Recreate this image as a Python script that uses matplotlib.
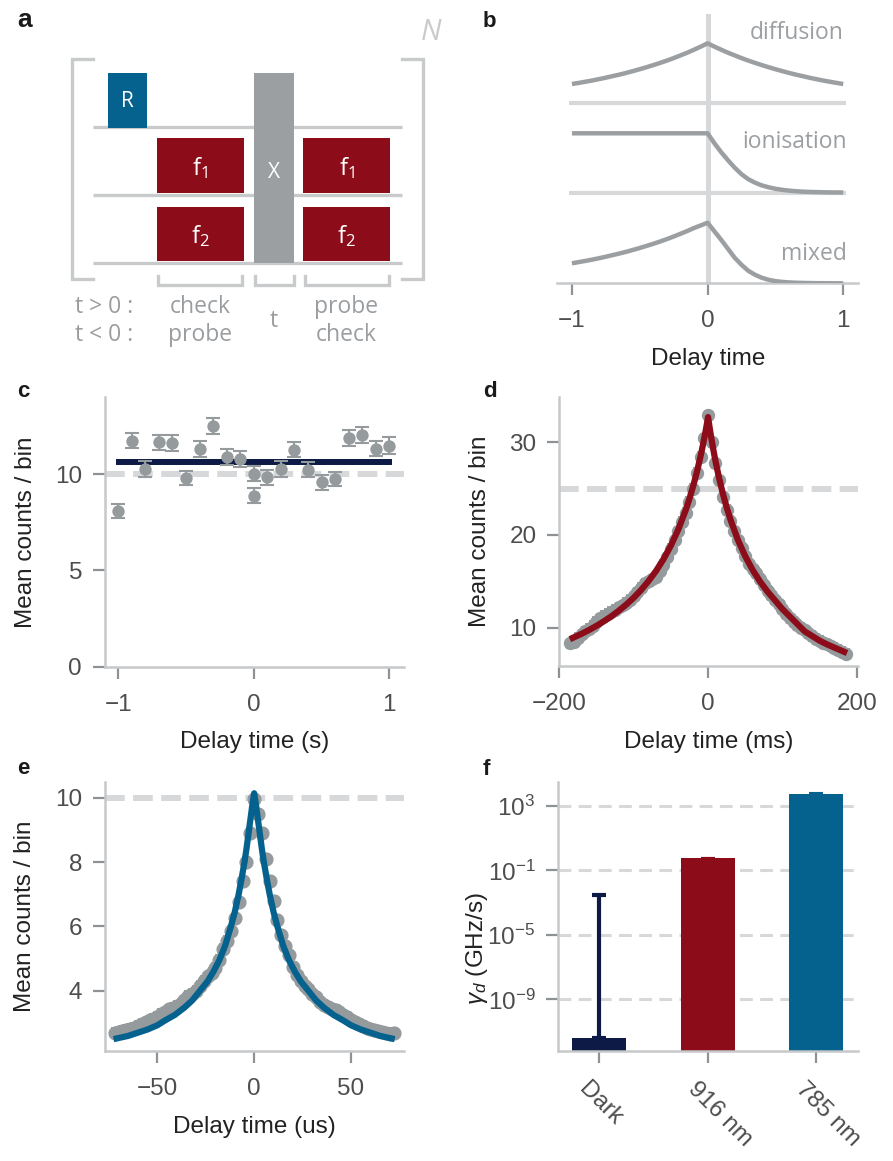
import matplotlib
matplotlib.use("Agg")
import matplotlib.pyplot as plt
from matplotlib.patches import Rectangle
from matplotlib.ticker import FixedLocator, NullLocator
from matplotlib.transforms import ScaledTranslation

plt.rcParams['font.family'] = ['Liberation Sans', 'DejaVu Sans']
plt.rcParams['mathtext.fontset'] = 'custom'
plt.rcParams['mathtext.rm'] = 'Liberation Sans'
plt.rcParams['mathtext.it'] = 'Liberation Sans:italic'
plt.rcParams['mathtext.bf'] = 'Liberation Sans:bold'

# ------------------------------------------------------------------ data
# panel b : schematic traces (height above each trace's own baseline)
b_t = [-1.0, -0.95, -0.9, -0.85, -0.8, -0.75, -0.7, -0.65, -0.6, -0.55, -0.5, -0.45,
       -0.4, -0.35, -0.3, -0.25, -0.2, -0.15, -0.1, -0.05, 0.0,
       0.05, 0.1, 0.15, 0.2, 0.25, 0.3, 0.35, 0.4, 0.45, 0.5, 0.55, 0.6, 0.65, 0.7,
       0.75, 0.8, 0.85, 0.9, 0.95, 1.0]
b_diffusion = [19.3, 20.4, 21.6, 22.8, 24.2, 25.6, 27.2, 28.7, 30.4, 32.2, 34.1, 36.1,
               38.2, 40.4, 42.7, 45.2, 47.9, 50.6, 53.6, 56.7, 60.0,
               56.7, 53.6, 50.6, 47.9, 45.2, 42.7, 40.4, 38.2, 36.1, 34.1, 32.2, 30.4,
               28.7, 27.2, 25.6, 24.2, 22.8, 21.6, 20.4, 19.3]
b_ionisation = [59.4] * 21 + [49.5, 40.5, 32.5, 25.0, 18.5, 13.5, 10.0, 7.3, 5.4, 3.9,
                              2.9, 2.1, 1.5, 1.1, 0.8, 0.6, 0.45, 0.3, 0.25, 0.2]
b_mixed = [20.0, 21.2, 22.4, 23.7, 25.1, 26.6, 28.2, 29.8, 31.5, 33.4, 35.3, 37.4,
           39.5, 41.8, 44.2, 46.8, 49.5, 52.3, 55.3, 57.9, 60.6,
           52.0, 43.5, 34.5, 25.5, 18.5, 12.5, 8.5, 5.5, 3.5, 2.2, 1.4, 0.9, 0.6, 0.4,
           0.25, 0.15, 0.1, 0.05, 0.0, 0.0]
b_labels = ['diffusion', 'ionisation', 'mixed']

# panel c
c_t = [-1.0, -0.9, -0.8, -0.7, -0.6, -0.5, -0.4, -0.3, -0.2, -0.1, 0.0, 0.0,
       0.1, 0.2, 0.3, 0.4, 0.5, 0.6, 0.7, 0.8, 0.9, 1.0]
c_counts = [8.06, 11.73, 10.26, 11.65, 11.61, 9.79, 11.30, 12.51, 10.88, 10.78, 10.02, 8.87,
            9.83, 10.26, 11.27, 10.23, 9.57, 9.74, 11.87, 12.04, 11.32, 11.47]
c_err = [0.36, 0.40, 0.40, 0.40, 0.40, 0.38, 0.40, 0.42, 0.42, 0.40, 0.40, 0.40,
         0.40, 0.42, 0.40, 0.40, 0.38, 0.38, 0.42, 0.42, 0.40, 0.45]
c_fit_t = [-1.02, 1.02]
c_fit = [10.6, 10.6]
c_ref = 10

# panel d
d_t = [-185, -180, -175, -170, -165, -160, -155, -150, -145, -140, -135, -130, -125,
       -120, -115, -110, -105, -100, -95, -90, -85, -80, -75, -70, -65, -60, -55, -50,
       -45, -40, -35, -30, -25, -20, -15, -10, -5, 0, 5, 10, 15, 20, 25, 30, 35, 40,
       45, 50, 55, 60, 65, 70, 75, 80, 85, 90, 95, 100, 105, 110, 115, 120, 125, 130,
       135, 140, 145, 150, 155, 160, 165, 170, 175, 180, 185]
d_counts = [8.3, 8.5, 8.9, 9.3, 9.6, 9.9, 10.2, 10.6, 11.0, 11.3, 11.5, 11.7, 11.9,
            12.2, 12.4, 12.7, 13.0, 13.4, 13.8, 14.3, 14.8, 15.0, 15.2, 15.5, 16.1, 16.8,
            17.6, 18.5, 19.4, 20.4, 21.4, 22.4, 23.6, 25.0, 26.7, 28.4, 30.4, 32.9,
            30.0, 27.7, 25.9, 24.1, 22.7, 21.5, 20.4, 19.4, 18.6, 17.7, 16.9, 16.3, 15.9,
            15.3, 14.6, 14.0, 13.5, 13.0, 12.5, 12.0, 11.5, 11.0, 10.6, 10.3, 10.0, 9.7,
            9.4, 9.1, 8.8, 8.6, 8.4, 8.2, 8.0, 7.8, 7.6, 7.4, 7.2]
d_err = 0.5
d_fit_t = [-182, -170, -160, -150, -140, -130, -120, -110, -100, -90, -80, -70, -60,
           -50, -40, -30, -25, -20, -15, -10, -7, -4, -2, 0, 2, 4, 7, 10, 15, 20, 25,
           30, 40, 50, 60, 70, 80, 90, 100, 110, 120, 130, 140, 150, 160, 170, 183]
d_fit = [8.90, 9.34, 9.75, 10.20, 10.69, 11.23, 11.83, 12.49, 13.23, 14.07, 15.03,
         16.11, 17.37, 18.85, 20.59, 22.69, 23.91, 25.27, 26.79, 28.51, 29.65, 30.88,
         31.77, 32.70, 31.63, 30.62, 29.23, 27.95, 26.07, 24.42, 22.97, 21.68, 19.49,
         17.70, 16.21, 14.96, 13.88, 12.95, 12.00, 11.20, 10.40, 9.60, 9.10, 8.60,
         8.20, 7.85, 7.40]
d_ref = 25

# panel e
e_t = [-72, -70, -68, -66, -64, -62, -60, -58, -56, -54, -52, -50, -48, -46, -44, -42,
       -40, -38, -36, -34, -32, -30, -28, -26, -24, -22, -20, -18, -16, -14, -12, -10,
       -8, -6, -4, -2, 0, 2, 4, 6, 8, 10, 12, 14, 16, 18, 20, 22, 24, 26, 28, 30, 32,
       34, 36, 38, 40, 42, 44, 46, 48, 50, 52, 54, 56, 58, 60, 62, 64, 66, 68, 70, 72]
e_counts = [2.70, 2.72, 2.75, 2.78, 2.82, 2.85, 2.90, 2.96, 3.02, 3.08, 3.13, 3.18,
            3.27, 3.33, 3.42, 3.48, 3.53, 3.60, 3.70, 3.83, 3.90, 4.00, 4.15, 4.30,
            4.45, 4.55, 4.70, 4.95, 5.30, 5.55, 5.85, 6.25, 6.75, 7.40, 8.00, 8.90,
            9.95, 9.50, 8.90, 8.10, 7.40, 6.80, 6.20, 5.75, 5.40, 5.10, 4.75, 4.50,
            4.30, 4.15, 4.05, 3.90, 3.80, 3.65, 3.55, 3.50, 3.45, 3.40, 3.33, 3.24,
            3.18, 3.08, 3.02, 2.97, 2.92, 2.86, 2.80, 2.78, 2.75, 2.72, 2.68, 2.66, 2.70]
e_err = 0.15
e_fit_t = [-71, -65, -60, -55, -50, -46, -41, -36, -32, -28, -24, -21, -18, -15, -12,
           -10, -8, -6.6, -5, -4, -3, -2, -1, 0, 1, 2, 3, 4, 5, 6.6, 8, 10, 12, 15, 18,
           21, 24, 28, 32, 36, 41, 46, 50, 55, 60, 65, 71]
e_fit = [2.52, 2.60, 2.70, 2.80, 2.93, 3.08, 3.25, 3.48, 3.70, 4.00, 4.30, 4.60, 4.95,
         5.40, 6.00, 6.45, 7.00, 7.45, 8.00, 8.40, 8.85, 9.30, 9.75, 10.14, 9.75, 9.30,
         8.85, 8.40, 8.00, 7.45, 7.00, 6.45, 6.00, 5.40, 4.95, 4.60, 4.30, 4.00, 3.70,
         3.48, 3.25, 3.08, 2.93, 2.80, 2.70, 2.60, 2.52]
e_ref = 10

# panel f
f_cats = ['Dark', '916 nm', '785 nm']
f_rates = [4e-12, 0.6, 5600.0]
f_err_up = [3e-3, 0.03, 300.0]
f_yticks = [1e3, 1e-1, 1e-5, 1e-9]
f_yticklabels = [r'$10^{3}$', r'$10^{-1}$', r'$10^{-5}$', r'$10^{-9}$']

# ------------------------------------------------------------------ style
GREY = '#959b9d'
SCHEME = '#9c9fa2'
LIGHT = '#d6d8d9'
SPINE = '#c6c8ca'
TICKC = '#8e9295'
TXT = '#4d4d4d'
LAB = '#222222'
RED = '#8c0c1a'
BLUE = '#05628f'
NAVY = '#0c1a45'
LSZ = 17.5

W, H = 893, 1161
fig = plt.figure(figsize=(W / 100, H / 100), dpi=100)


def axes_px(left, top, right, bottom):
    return fig.add_axes([left / W, 1 - bottom / H, (right - left) / W, (bottom - top) / H])


def style(ax, left=True):
    for s in ['top', 'right']:
        ax.spines[s].set_visible(False)
    for s in ['left', 'bottom']:
        ax.spines[s].set_color(SPINE)
        ax.spines[s].set_linewidth(1.8)
    if not left:
        ax.spines['left'].set_visible(False)
        ax.tick_params(axis='y', left=False, labelleft=False)
    ax.tick_params(which='major', length=8.5, width=1.6, color=TICKC,
                   labelcolor=TXT, labelsize=LSZ)
    ax.tick_params(axis='x', pad=11)
    ax.tick_params(axis='y', pad=8)
    ax.tick_params(which='minor', length=0)


def panel_label(x, y, s, size=16):
    fig.text(x / W, 1 - y / H, s, fontsize=size, fontweight='bold', color='#1a1a1a',
             ha='left', va='baseline')


# ------------------------------------------------------------------ panel a
axa = axes_px(0, 0, 450, 360)
axa.set_xlim(0, 450)
axa.set_ylim(360, 0)
axa.axis('off')
LINEC = '#c8cacc'
alw = 2.4
for yy in [126.7, 195.0, 262.7]:
    axa.plot([92.7, 401.7], [yy, yy], color=LINEC, lw=alw, solid_capstyle='butt', zorder=1)
axa.plot([92.7, 71.7, 71.7, 92.7], [59.3, 59.3, 279.3, 279.3], color=LINEC, lw=alw,
         solid_joinstyle='miter', zorder=1)
axa.plot([401.7, 422.7, 422.7, 401.7], [59.3, 59.3, 279.3, 279.3], color=LINEC, lw=alw,
         solid_joinstyle='miter', zorder=1)
boxes = [(108, 73, 39, 54.7, BLUE), (157, 138, 87, 54.7, RED), (157, 207, 87, 53.7, RED),
         (254, 73, 40, 190.3, SCHEME), (303, 138, 87, 54.7, RED), (303, 207, 87, 53.7, RED)]
for (x, y, w, h, c) in boxes:
    axa.add_patch(Rectangle((x, y), w, h, facecolor=c, edgecolor='none', zorder=2))
AF = ['Open Sans', 'DejaVu Sans']
axa.text(127.5, 101.5, 'R', color='white', fontsize=15, family=AF, ha='center', va='center', zorder=3)
axa.text(274, 173, 'X', color='white', fontsize=15, family=AF, ha='center', va='center', zorder=3)
for (cx, cy, s) in [(200, 168, r'$\mathregular{f_1}$'), (346.5, 168, r'$\mathregular{f_1}$'),
                    (200, 236, r'$\mathregular{f_2}$'), (346.5, 236, r'$\mathregular{f_2}$')]:
    axa.text(cx, cy, s, color='white', fontsize=17, family=AF, ha='center', va='center', zorder=3)
for (x0, x1) in [(158.3, 242.3), (254.7, 293.7), (305.0, 388.7)]:
    axa.plot([x0, x0, x1, x1], [276, 285, 285, 276], color=LINEC, lw=alw,
             solid_joinstyle='miter', zorder=1)
TG = '#9a9da0'
for (x, y, s, ha) in [(75, 307, 't > 0 :', 'left'), (75, 335, 't < 0 :', 'left'),
                      (200, 307, 'check', 'center'), (200, 335, 'probe', 'center'),
                      (274, 321, 't', 'center'), (346.5, 307, 'probe', 'center'),
                      (346.5, 335, 'check', 'center')]:
    axa.text(x, y, s, color=TG, fontsize=16.5, family=AF, ha=ha, va='center')
axa.text(431, 33, 'N', color=LINEC, fontsize=21, family=AF, style='italic',
         ha='center', va='center')

# ------------------------------------------------------------------ panel b
axb = axes_px(557.3, 14, 858.3, 283.3)
style(axb, left=False)
axb.set_xlim(-1.108, 1.111)
axb.set_ylim(0, 269.3)
b_base = [180.0, 90.6, 0.0]
axb.axvline(0, color=LIGHT, lw=3.6, zorder=1)
for base in b_base[:2]:
    axb.plot([-1.02, 1.02], [base, base], color=LIGHT, lw=3.0, solid_capstyle='butt', zorder=1)
for base, tr in zip(b_base, [b_diffusion, b_ionisation, b_mixed]):
    axb.plot(b_t, [base + v for v in tr], color=SCHEME, lw=3.2, zorder=3,
             solid_capstyle='butt', solid_joinstyle='round')
for (x, y, s) in [(1.003, 244.0, b_labels[0]), (1.028, 135.6, b_labels[1]),
                  (1.028, 23.3, b_labels[2])]:
    axb.text(x, y, s, color=SCHEME, fontsize=16.5, family=AF, ha='right', va='baseline')
axb.set_xticks([-1, 0, 1])
axb.set_xlabel('Delay time', fontsize=LSZ, color=LAB)
axb.xaxis.set_label_coords(0.5, -0.24)

# ------------------------------------------------------------------ panel c
axc = axes_px(105, 397, 404, 667)
style(axc)
axc.set_xlim(-1.098, 1.108)
axc.set_ylim(-0.02, 14.0)
axc.axhline(c_ref, color=LIGHT, lw=4.3, linestyle=(0, (3.3, 1.4)), zorder=1)
axc.plot(c_fit_t, c_fit, color=NAVY, lw=4.3, solid_capstyle='butt', zorder=2)
axc.errorbar(c_t, c_counts, yerr=c_err, fmt='o', color=GREY, ms=7.9, elinewidth=1.5,
             capsize=4.7, capthick=1.5, zorder=3)
axc.set_xticks([-1, 0, 1])
axc.set_yticks([0, 5, 10])
axc.set_xlabel('Delay time (s)', fontsize=LSZ, color=LAB)
axc.set_ylabel('Mean counts / bin', fontsize=LSZ, color=LAB)
axc.xaxis.set_label_coords(0.5, -0.237)
axc.yaxis.set_label_coords(-0.227, 0.5)

# ------------------------------------------------------------------ panel d
axd = axes_px(559.3, 396.7, 858.3, 666)
style(axd)
axd.set_xlim(-200, 202)
axd.set_ylim(5.87, 34.9)
axd.axhline(d_ref, color=LIGHT, lw=4.3, linestyle=(0, (3.3, 1.4)), zorder=1)
axd.errorbar(d_t, d_counts, yerr=d_err, fmt='o', color=GREY, ms=8.6, elinewidth=1.3,
             capsize=2.6, capthick=1.3, zorder=2)
axd.plot(d_fit_t, d_fit, color=RED, lw=4.5, zorder=3, solid_joinstyle='round')
axd.set_xticks([-200, 0, 200])
axd.set_yticks([10, 20, 30])
axd.set_xlabel('Delay time (ms)', fontsize=LSZ, color=LAB)
axd.set_ylabel('Mean counts / bin', fontsize=LSZ, color=LAB)
axd.xaxis.set_label_coords(0.5, -0.241)
axd.yaxis.set_label_coords(-0.230, 0.5)

# ------------------------------------------------------------------ panel e
axe = axes_px(105, 781.7, 404.3, 1051)
style(axe)
axe.set_xlim(-77, 77.5)
axe.set_ylim(2.13, 10.5)
axe.axhline(e_ref, color=LIGHT, lw=4.3, linestyle=(0, (3.3, 1.4)), zorder=1)
axe.errorbar(e_t, e_counts, yerr=e_err, fmt='o', color=GREY, ms=9.2, elinewidth=1.3,
             capsize=3.0, capthick=1.3, zorder=2)
axe.plot(e_fit_t, e_fit, color=BLUE, lw=4.5, zorder=3, solid_joinstyle='round')
axe.set_xticks([-50, 0, 50])
axe.set_yticks([4, 6, 8, 10])
axe.set_xlabel('Delay time (us)', fontsize=LSZ, color=LAB)
axe.set_ylabel('Mean counts / bin', fontsize=LSZ, color=LAB)
axe.xaxis.set_label_coords(0.5, -0.241)
axe.yaxis.set_label_coords(-0.229, 0.5)

# ------------------------------------------------------------------ panel f
axf = axes_px(558.3, 781.7, 858.0, 1051)
style(axf)
axf.set_yscale('log')
axf.set_xlim(-0.378, 2.384)
axf.set_ylim(10 ** -12.2, 10 ** 4.5)
for yv in f_yticks:
    axf.axhline(yv, color=LIGHT, lw=2.2, linestyle=(0, (4.2, 2.4)), zorder=0)
f_colors = [NAVY, RED, BLUE]
xs = list(range(len(f_cats)))
axf.bar(xs, f_rates, width=0.5, color=f_colors, zorder=2)
for x, v, e, c in zip(xs, f_rates, f_err_up, f_colors):
    lw = 3.0 if x == 0 else 1.5
    axf.errorbar([x], [v], yerr=[[0], [e]], fmt='none', ecolor=c, elinewidth=lw,
                 capsize=5.0, capthick=lw, zorder=3)
axf.yaxis.set_major_locator(FixedLocator(f_yticks))
axf.yaxis.set_minor_locator(NullLocator())
axf.set_yticklabels(f_yticklabels)
axf.set_xticks(xs)
axf.set_xticklabels(f_cats, rotation=-45, ha='left', va='top', rotation_mode='anchor')
axf.tick_params(axis='x', pad=8)
shift = ScaledTranslation(-9 / 100, -4 / 100, fig.dpi_scale_trans)
for lbl in axf.get_xticklabels():
    lbl.set_transform(lbl.get_transform() + shift)
axf.set_ylabel(r'$\gamma_d$ (GHz/s)', fontsize=LSZ, color=LAB)
axf.yaxis.set_label_coords(-0.228, 0.38)

# ------------------------------------------------------------------ panel labels
panel_label(17, 27, 'a', size=19)
panel_label(483, 26.7, 'b')
panel_label(17, 397, 'c')
panel_label(483, 397, 'd')
panel_label(17, 774, 'e')
panel_label(483, 775, 'f')

fig.savefig('out.png', dpi=100)
